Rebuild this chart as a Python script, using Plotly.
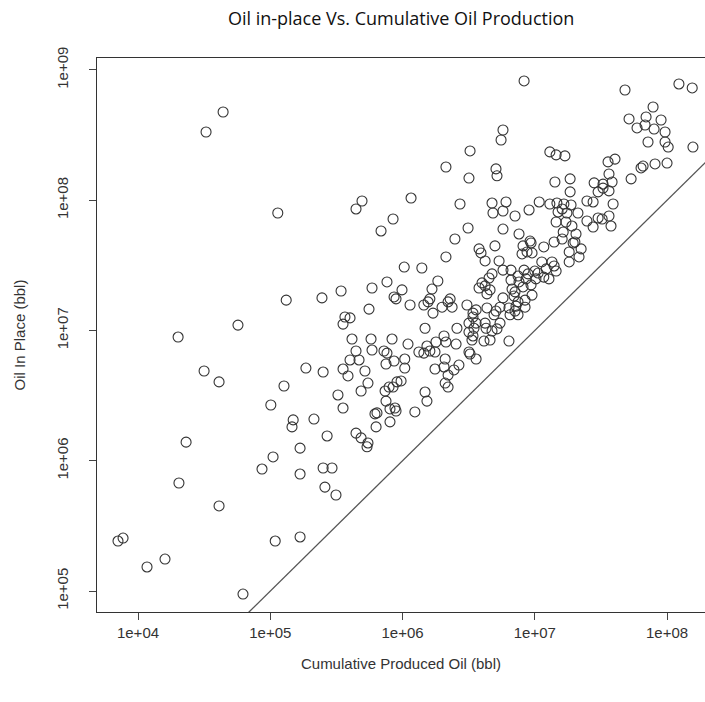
import plotly.graph_objects as go

# Cumulative produced oil (bbl) for each reservoir
cumulative_oil = [
    4.40e4, 3.27e4, 1.14e5, 1.32e5, 5.70e4, 2.01e4, 3.16e4, 4.10e4, 1.27e5, 1.01e5,
    1.49e5, 1.46e5, 2.31e4, 1.05e5, 8.66e4, 2.04e4, 4.10e4, 7.71e3, 7.06e3, 1.60e4,
    1.17e4, 1.09e5, 6.22e4, 1.68e5, 1.68e5, 1.68e5,
    4.94e5, 4.45e5, 1.16e6, 8.48e5, 6.88e5, 1.03e6, 1.40e6, 7.63e5, 3.43e5, 5.88e5,
    2.46e5, 9.91e5, 1.67e6, 8.63e5, 8.93e5, 1.14e6, 1.61e6, 1.56e6, 1.45e6, 1.70e6,
    5.58e5, 3.67e5, 4.01e5, 3.55e5, 1.48e6, 4.15e5, 5.78e5, 8.33e5,
    1.10e6, 4.45e5, 5.88e5, 7.24e5, 7.63e5, 4.01e5, 4.69e5, 1.86e5, 2.51e5, 3.55e5,
    3.87e5, 5.20e5, 7.50e5, 8.63e5, 1.04e6, 1.04e6, 1.33e6, 1.45e6, 1.53e6, 1.61e6,
    1.76e6, 1.76e6, 5.48e5, 4.86e5, 3.25e5, 3.55e5, 7.38e5, 7.91e5, 8.48e5, 9.08e5,
    9.75e5, 1.48e6, 1.53e6, 7.50e5, 8.04e5, 8.77e5, 8.93e5, 1.24e6, 6.19e5, 6.41e5,
    2.14e5, 6.31e5, 8.04e5, 2.69e5, 4.45e5, 4.86e5, 5.48e5, 5.39e5, 2.51e5, 2.93e5,
    2.59e5, 3.14e5,
    1.79e6, 2.13e6, 2.54e6, 3.35e6, 4.13e6, 4.59e6, 3.18e6, 3.24e6, 3.60e6, 2.10e6,
    2.67e6, 2.06e6, 2.45e6, 2.21e6, 2.10e6, 2.21e6, 6.38e6, 2.06e6,
    8.30e6, 5.75e6, 5.56e6, 3.24e6, 2.13e6, 3.18e6, 5.09e6, 5.18e6, 1.30e7, 1.45e7,
    1.69e7, 1.42e7, 1.85e7, 1.85e7,
    2.72e6, 4.75e6, 6.06e6, 1.08e7, 1.30e7, 1.47e7, 1.66e7, 1.88e7, 4.83e6, 5.75e6,
    7.09e6, 9.05e6, 1.50e7, 1.61e7, 1.75e7, 1.45e7, 1.72e7, 3.13e6, 5.75e6, 7.60e6,
    1.64e7, 2.49e6, 1.40e7, 1.61e7, 9.21e6, 9.37e6, 8.15e6, 5.00e6, 1.17e7, 3.79e6,
    3.92e6, 8.74e6, 9.53e6, 8.01e6, 1.82e7, 2.13e6, 4.21e6, 5.37e6, 1.13e7, 1.35e7,
    1.40e7, 1.82e7, 5.75e6, 6.61e6, 8.30e6, 1.00e7, 1.22e7, 1.45e7, 4.75e6, 7.47e6,
    8.89e6, 1.06e7, 1.17e7, 1.28e7, 4.51e6, 6.61e6, 7.60e6, 8.59e6, 1.02e7, 1.85e6,
    3.99e6, 4.21e6, 3.79e6, 6.73e6, 8.15e6, 9.37e6, 4.59e6, 4.35e6, 7.09e6, 6.97e6,
    9.53e6, 8.44e6, 5.75e6, 7.47e6, 7.21e6, 8.44e6, 2.29e6, 2.21e6, 1.99e6, 2.37e6,
    3.07e6, 3.60e6, 4.35e6, 5.46e6, 6.38e6, 7.09e6, 5.09e6, 3.41e6, 4.92e6, 6.50e6,
    7.47e6, 3.41e6, 3.60e6, 4.21e6, 5.46e6, 3.18e6, 2.58e6, 3.47e6, 4.75e6, 5.18e6,
    4.28e6, 3.18e6, 3.41e6,
    4.81e7, 1.23e8, 1.55e8, 7.84e7, 5.16e7, 6.94e7, 9.01e7, 5.93e7, 6.82e7, 7.98e7,
    9.66e7, 7.18e7, 9.66e7, 1.02e8, 1.57e8, 3.58e7, 4.04e7, 6.59e7, 6.36e7, 8.11e7,
    1.00e8, 3.64e7, 5.35e7, 2.81e7, 3.28e7, 3.84e7, 3.28e7, 3.01e7, 3.64e7,
    2.48e7, 2.76e7, 3.91e7, 2.12e7, 2.48e7, 3.01e7, 3.23e7, 3.64e7, 2.76e7, 3.77e7,
    1.91e7, 2.05e7, 1.95e7, 2.01e7, 2.24e7, 2.16e7,
]

# Estimated oil initially in place (bbl) for the same reservoirs
oil_in_place = [
    4.76e8, 3.34e8, 7.98e7, 1.71e7, 1.10e7, 8.91e6, 4.89e6, 4.03e6, 3.75e6, 2.68e6,
    2.06e6, 1.82e6, 1.39e6, 1.07e6, 8.64e5, 6.75e5, 4.50e5, 2.55e5, 2.42e5, 1.76e5,
    1.53e5, 2.42e5, 9.48e4, 1.25e6, 7.91e5, 2.60e5,
    9.87e7, 8.57e7, 1.04e8, 7.18e7, 5.81e7, 3.07e7, 3.02e7, 2.36e7, 2.01e7, 2.12e7,
    1.78e7, 2.05e7, 2.08e7, 1.81e7, 1.75e7, 1.57e7, 1.75e7, 1.66e7, 1.57e7, 1.36e7,
    1.46e7, 1.27e7, 1.25e7, 1.12e7, 1.04e7, 8.60e6, 8.60e6, 8.60e6,
    7.87e6, 6.96e6, 7.08e6, 6.96e6, 6.71e6, 5.94e6, 5.94e6, 5.15e6, 4.80e6, 5.06e6,
    4.48e6, 4.89e6, 5.53e6, 5.83e6, 6.04e6, 5.15e6, 6.84e6, 6.71e6, 7.60e6, 6.96e6,
    6.84e6, 5.06e6, 3.95e6, 3.43e6, 3.20e6, 2.54e6, 3.43e6, 3.68e6, 3.68e6, 4.03e6,
    4.10e6, 3.37e6, 2.87e6, 2.87e6, 2.50e6, 2.54e6, 2.41e6, 2.37e6, 2.29e6, 2.33e6,
    2.09e6, 1.82e6, 1.99e6, 1.55e6, 1.63e6, 1.50e6, 1.37e6, 1.28e6, 8.80e5, 8.80e5,
    6.28e5, 5.46e5,
    8.16e6, 8.16e6, 7.87e6, 8.45e6, 8.30e6, 8.45e6, 6.84e6, 6.60e6, 6.04e6, 6.04e6,
    5.43e6, 5.25e6, 4.98e6, 4.55e6, 3.95e6, 3.68e6, 8.30e6, 9.08e6,
    8.24e8, 3.46e8, 2.90e8, 2.39e8, 1.80e8, 1.48e8, 1.74e8, 1.54e8, 2.35e8, 2.23e8,
    2.19e8, 1.38e8, 1.46e8, 1.16e8,
    9.36e7, 9.52e7, 9.70e7, 9.70e7, 9.36e7, 9.52e7, 9.36e7, 9.20e7, 7.98e7, 8.27e7,
    7.57e7, 8.42e7, 8.13e7, 8.57e7, 7.98e7, 6.81e7, 6.81e7, 6.12e7, 6.01e7, 5.51e7,
    5.70e7, 5.04e7, 4.78e7, 5.04e7, 4.86e7, 4.70e7, 4.46e7, 4.46e7, 4.38e7, 4.23e7,
    3.94e7, 4.01e7, 3.94e7, 3.87e7, 4.01e7, 3.67e7, 3.42e7, 3.42e7, 3.36e7, 3.36e7,
    3.13e7, 3.36e7, 2.91e7, 2.91e7, 2.91e7, 2.86e7, 2.97e7, 2.86e7, 2.72e7, 2.62e7,
    2.72e7, 2.76e7, 2.57e7, 2.49e7, 2.53e7, 2.44e7, 2.36e7, 2.49e7, 2.49e7, 2.40e7,
    2.32e7, 2.20e7, 2.12e7, 2.08e7, 2.16e7, 2.24e7, 2.05e7, 1.91e7, 1.98e7, 1.84e7,
    1.87e7, 1.71e7, 1.78e7, 1.66e7, 1.54e7, 1.51e7, 1.75e7, 1.66e7, 1.51e7, 1.51e7,
    1.57e7, 1.44e7, 1.49e7, 1.51e7, 1.49e7, 1.41e7, 1.41e7, 1.36e7, 1.32e7, 1.32e7,
    1.32e7, 1.27e7, 1.14e7, 1.14e7, 1.14e7, 1.14e7, 1.04e7, 1.04e7, 9.91e6, 1.03e7,
    1.04e7, 9.73e6, 9.08e6,
    7.02e8, 7.81e8, 7.28e8, 5.20e8, 4.21e8, 4.36e8, 4.13e8, 3.59e8, 3.78e8, 3.52e8,
    3.34e8, 2.80e8, 2.80e8, 2.56e8, 2.56e8, 1.97e8, 2.07e8, 1.83e8, 1.77e8, 1.90e8,
    1.93e8, 1.59e8, 1.46e8, 1.36e8, 1.33e8, 1.38e8, 1.24e8, 1.16e8, 1.18e8,
    9.87e7, 9.70e7, 9.36e7, 7.98e7, 6.93e7, 7.31e7, 7.18e7, 7.57e7, 6.23e7, 6.34e7,
    6.34e7, 5.51e7, 4.70e7, 4.78e7, 4.23e7, 3.67e7,
]

# Reference line where in-place volume equals cumulative production
unity_line = [1e3, 1e10]

x_ticks = [1e4, 1e5, 1e6, 1e7, 1e8]
x_tick_labels = ["1e+04", "1e+05", "1e+06", "1e+07", "1e+08"]
y_ticks = [1e5, 1e6, 1e7, 1e8, 1e9]
y_tick_labels = ["1e+05", "1e+06", "1e+07", "1e+08", "1e+09"]

FONT = "Liberation Sans, Arial, sans-serif"
TITLE_FONT = "Open Sans, Noto Sans, sans-serif"

fig = go.Figure()

fig.add_trace(go.Scatter(
    x=unity_line, y=unity_line, mode="lines",
    line=dict(color="#555555", width=1.3),
    hoverinfo="skip", showlegend=False,
))

fig.add_trace(go.Scatter(
    x=cumulative_oil, y=oil_in_place, mode="markers",
    marker=dict(symbol="circle-open", size=10, color="#333333",
                line=dict(width=1.1, color="#333333")),
    showlegend=False,
))

fig.update_layout(
    width=705, height=702,
    margin=dict(l=97, r=0, t=58, b=90),
    paper_bgcolor="white", plot_bgcolor="white",
    font=dict(family=FONT, color="#222222"),
    title=dict(
        text="Oil in-place Vs. Cumulative Oil Production",
        font=dict(size=18, color="#111111", family=TITLE_FONT),
        x=0.569, xanchor="center", y=0.974, yanchor="middle",
    ),
)

fig.update_xaxes(
    type="log", range=[3.690, 8.287],
    tickvals=x_ticks, ticktext=x_tick_labels,
    tickfont=dict(size=15, color="#333333"),
    ticks="outside", ticklen=7, tickcolor="#444444", tickwidth=1,
    showline=True, linecolor="#333333", linewidth=1.2, mirror=True,
    showgrid=False, zeroline=False,
    title=dict(text="Cumulative Produced Oil (bbl)",
               font=dict(size=15, color="#333333"), standoff=18),
)

fig.update_yaxes(
    type="log", range=[4.839, 9.092],
    tickvals=y_ticks, ticktext=y_tick_labels, tickangle=-90,
    ticklabelstandoff=15,
    tickfont=dict(size=15, color="#333333"),
    ticks="outside", ticklen=7, tickcolor="#444444", tickwidth=1,
    showline=True, linecolor="#333333", linewidth=1.2, mirror=False,
    showgrid=False, zeroline=False,
    title=dict(text="Oil In Place (bbl)",
               font=dict(size=15, color="#333333"), standoff=24),
)

fig.write_html("out.html")
